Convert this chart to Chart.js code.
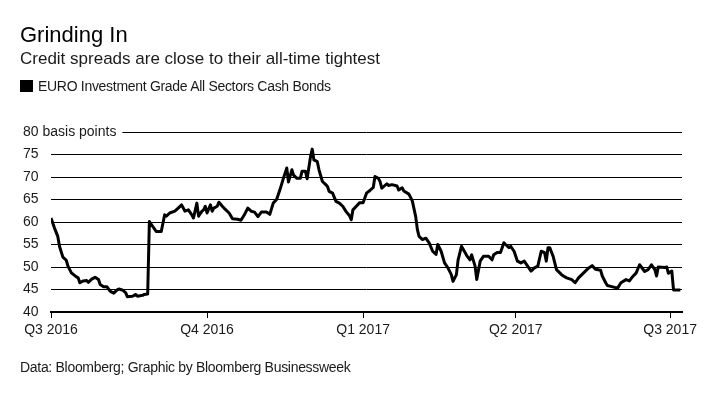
<!DOCTYPE html>
<html>
<head>
<meta charset="utf-8">
<script src="https://cdn.jsdelivr.net/npm/chart.js@4"></script>
<style>
  body { margin: 0; background: #fff; }
  #wrap { position: relative; width: 720px; height: 394px; overflow: hidden; font-family: 'Liberation Sans', Arial, sans-serif; color: #1a1a1a; }
  #chart { position: absolute; left: 0; top: 0; }
  .txt { position: absolute; left: 20px; white-space: nowrap; line-height: normal; }
  #title { top: 22px; font-size: 22px; color: #000; }
  #subtitle { top: 48.6px; font-size: 17px; }
  #legend { top: 78px; font-size: 14px; letter-spacing: -0.3px; }
  #legend span { display: inline-block; width: 13px; height: 12px; background: #000; margin-right: 5px; vertical-align: -1px; }
  #footer { top: 359px; font-size: 14px; letter-spacing: -0.3px; }
</style>
</head>
<body>
<div id="wrap">
  <canvas id="chart" width="720" height="394"></canvas>
  <div class="txt" id="title">Grinding In</div>
  <div class="txt" id="subtitle">Credit spreads are close to their all-time tightest</div>
  <div class="txt" id="legend"><span></span>EURO Investment Grade All Sectors Cash Bonds</div>
  <div class="txt" id="footer">Data: Bloomberg; Graphic by Bloomberg Businessweek</div>
</div>
<script>
// days since 1 Jul 2016
const days = [0, 2, 4, 5, 7, 9, 10, 12, 15, 16, 17, 19, 21, 22, 24, 26, 28, 29, 31, 33,
  35, 37, 39, 40, 42, 44, 45, 48, 50, 51, 54, 55, 57, 58, 60, 62, 65, 67, 68, 70,
  73, 75, 77, 79, 81, 83, 84, 86, 87, 89, 90, 91, 92, 94, 95, 96, 98, 99, 101, 102,
  105, 107, 110, 112, 114, 116, 118, 120, 122, 124, 127, 129, 131, 133, 135, 137, 139, 140, 142, 143,
  145, 147, 148, 150, 151, 153, 154, 155, 157, 158, 160, 162, 163, 164, 166, 168, 170, 172, 174, 176,
  177, 178, 180, 182, 184, 186, 188, 190, 191, 193, 194, 195, 198, 199, 201, 204, 205, 207, 208, 211,
  213, 215, 216, 217, 219, 221, 223, 225, 227, 228, 230, 232, 234, 236, 237, 239, 240, 242, 244, 245,
  247, 248, 250, 251, 253, 255, 258, 260, 261, 263, 265, 267, 268, 270, 271, 273, 275, 277, 279, 281,
  283, 285, 287, 289, 291, 292, 293, 294, 296, 298, 301, 303, 304, 307, 309, 311, 314, 317, 319, 321,
  324, 325, 327, 328, 330, 334, 336, 339, 341, 343, 345, 347, 350, 352, 354, 356, 357, 358, 362, 363,
  364, 366, 367, 369, 371];

// basis points
const spreads = [60.9, 58.7, 56.8, 54.6, 52.2, 51.5, 50.2, 48.7, 47.8, 47.6, 46.5, 46.9, 47.0, 46.6, 47.3, 47.7, 47.2, 46.1, 45.6, 45.6,
  44.6, 44.2, 44.9, 45.1, 44.9, 44.3, 43.4, 43.5, 43.9, 43.5, 43.7, 43.9, 44.0, 60.1, 59.0, 57.9, 57.9, 61.6, 61.3, 62.0,
  62.4, 63.1, 63.8, 62.4, 62.7, 61.6, 60.9, 64.2, 61.3, 62.4, 62.7, 63.5, 62.0, 63.8, 62.4, 63.1, 63.5, 64.4, 63.5, 63.1,
  62.0, 60.7, 60.6, 60.4, 61.6, 63.1, 62.4, 62.2, 61.2, 62.2, 62.2, 61.7, 64.2, 65.0, 67.2, 69.7, 72.0, 68.9, 71.6, 70.4,
  69.7, 69.7, 71.3, 71.3, 69.6, 74.5, 76.2, 73.8, 73.4, 71.6, 69.0, 68.3, 67.9, 66.8, 66.4, 64.6, 64.2, 63.5, 62.3, 61.4,
  60.5, 62.7, 63.5, 64.3, 64.3, 66.4, 67.0, 67.7, 70.1, 69.7, 69.0, 67.5, 68.5, 68.1, 68.3, 68.0, 67.1, 67.6, 66.9, 66.2,
  64.7, 61.2, 58.3, 56.8, 56.1, 56.4, 55.3, 53.5, 52.8, 55.0, 53.5, 50.9, 49.8, 48.3, 46.8, 48.3, 51.6, 54.6, 53.3, 52.6,
  51.6, 52.7, 50.2, 47.2, 51.3, 52.4, 52.4, 51.6, 52.7, 53.2, 53.2, 55.4, 55.0, 54.3, 54.6, 53.5, 51.3, 50.9, 51.3, 50.2,
  49.1, 49.8, 50.2, 53.5, 53.2, 51.3, 54.3, 54.3, 52.4, 49.4, 48.3, 47.8, 47.6, 47.2, 46.5, 47.6, 48.7, 49.8, 50.3, 49.5,
  49.3, 48.0, 46.5, 45.9, 45.7, 45.3, 46.5, 47.2, 46.9, 47.9, 48.7, 50.5, 49.0, 49.4, 50.5, 49.4, 48.0, 50.0, 49.9, 50.0,
  48.6, 49.1, 44.9, 44.9, 44.9];

const quarterDays = [0, 92, 184, 274, 365];
const quarterLabels = ['Q3 2016', 'Q4 2016', 'Q1 2017', 'Q2 2017', 'Q3 2017'];
const yMin = 40, yMax = 80, yStep = 5;

const FONT = "'Liberation Sans', Arial, sans-serif";
const INK = '#1a1a1a';

// "basis points" sits on the top gridline, which is cut away behind it
const unitLabel = {
  id: 'unitLabel',
  afterDraw(chart) {
    const ctx = chart.ctx;
    const yScale = chart.scales.y;
    const y = yScale.getPixelForValue(yMax);
    ctx.save();
    ctx.font = '14px ' + FONT;
    const x0 = yScale.left + ctx.measureText(yMax + ' ').width;
    const w = ctx.measureText('basis points').width;
    ctx.fillStyle = '#fff';
    ctx.fillRect(chart.chartArea.left - 1, y - 3, x0 + w + 6 - chart.chartArea.left + 1, 6);
    ctx.fillStyle = INK;
    ctx.textBaseline = 'middle';
    ctx.fillText('basis points', x0, y);
    ctx.restore();
  }
};

new Chart(document.getElementById('chart'), {
  type: 'line',
  data: {
    datasets: [{
      label: 'EURO Investment Grade All Sectors Cash Bonds',
      data: days.map((d, i) => ({ x: d, y: spreads[i] })),
      borderColor: '#000',
      borderWidth: 3,
      pointRadius: 0,
      tension: 0,
      fill: false,
      borderJoinStyle: 'round'
    }]
  },
  options: {
    responsive: false,
    animation: false,
    layout: { padding: { left: 23, right: 38, top: 132, bottom: 52 } },
    plugins: { legend: { display: false }, tooltip: { enabled: false } },
    scales: {
      x: {
        type: 'linear',
        min: 0,
        max: 372,
        afterBuildTicks: axis => { axis.ticks = quarterDays.map(v => ({ value: v })); },
        afterFit: axis => { axis.height = 30; },
        grid: { drawOnChartArea: false, drawTicks: true, tickLength: 6, color: '#000', lineWidth: 1 },
        border: { display: true, color: '#000', width: 2 },
        ticks: {
          autoSkip: false,
          maxRotation: 0,
          padding: 4,
          color: INK,
          font: { family: FONT, size: 14 },
          callback: v => quarterLabels[quarterDays.indexOf(v)]
        }
      },
      y: {
        min: yMin,
        max: yMax,
        afterFit: axis => { axis.width = 28; },
        grid: { drawTicks: false, color: '#000', lineWidth: 1 },
        border: { display: false },
        ticks: {
          stepSize: yStep,
          crossAlign: 'far',
          color: INK,
          font: { family: FONT, size: 14 }
        }
      }
    }
  },
  plugins: [unitLabel]
});
</script>
</body>
</html>
